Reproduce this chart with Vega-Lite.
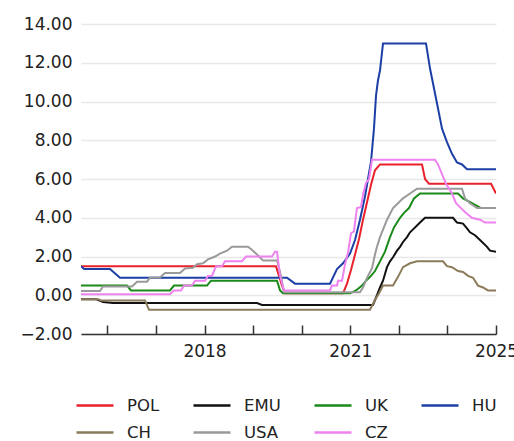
{
  "$schema": "https://vega.github.io/schema/vega-lite/v6.json",
  "width": 415,
  "height": 310,
  "autosize": {"type": "none"},
  "padding": {"left": 81, "top": 24, "right": 18, "bottom": 107},
  "config": {
    "view": {"stroke": null},
    "font": "DejaVu Sans"
  },
  "data": {
    "values": [
      {"s":"POL","t":2016.457,"v":1.5},{"s":"POL","t":2020.471,"v":1.5},{"s":"POL","t":2020.533,"v":1.0},{"s":"POL","t":2020.595,"v":0.5},{"s":"POL","t":2020.657,"v":0.1},{"s":"POL","t":2021.851,"v":0.1},{"s":"POL","t":2021.933,"v":0.6},{"s":"POL","t":2022.015,"v":1.3},{"s":"POL","t":2022.098,"v":2.1},{"s":"POL","t":2022.180,"v":2.9},{"s":"POL","t":2022.262,"v":3.9},{"s":"POL","t":2022.345,"v":4.8},{"s":"POL","t":2022.427,"v":5.7},{"s":"POL","t":2022.509,"v":6.45},{"s":"POL","t":2022.612,"v":6.75},{"s":"POL","t":2023.477,"v":6.75},{"s":"POL","t":2023.539,"v":6.0},{"s":"POL","t":2023.621,"v":5.75},{"s":"POL","t":2024.898,"v":5.75},{"s":"POL","t":2025.0,"v":5.25},
      {"s":"EMU","t":2016.457,"v":-0.2},{"s":"EMU","t":2016.766,"v":-0.2},{"s":"EMU","t":2016.910,"v":-0.35},{"s":"EMU","t":2017.116,"v":-0.4},{"s":"EMU","t":2020.080,"v":-0.4},{"s":"EMU","t":2020.183,"v":-0.5},{"s":"EMU","t":2022.468,"v":-0.5},{"s":"EMU","t":2022.550,"v":0.0},{"s":"EMU","t":2022.612,"v":0.4},{"s":"EMU","t":2022.674,"v":0.75},{"s":"EMU","t":2022.756,"v":1.45},{"s":"EMU","t":2022.818,"v":1.75},{"s":"EMU","t":2022.880,"v":1.96},{"s":"EMU","t":2022.962,"v":2.3},{"s":"EMU","t":2023.024,"v":2.5},{"s":"EMU","t":2023.086,"v":2.75},{"s":"EMU","t":2023.168,"v":3.0},{"s":"EMU","t":2023.230,"v":3.25},{"s":"EMU","t":2023.292,"v":3.4},{"s":"EMU","t":2023.374,"v":3.6},{"s":"EMU","t":2023.436,"v":3.75},{"s":"EMU","t":2023.539,"v":4.0},{"s":"EMU","t":2024.115,"v":4.0},{"s":"EMU","t":2024.197,"v":3.75},{"s":"EMU","t":2024.321,"v":3.7},{"s":"EMU","t":2024.403,"v":3.45},{"s":"EMU","t":2024.465,"v":3.25},{"s":"EMU","t":2024.568,"v":3.1},{"s":"EMU","t":2024.671,"v":2.85},{"s":"EMU","t":2024.815,"v":2.5},{"s":"EMU","t":2024.877,"v":2.3},{"s":"EMU","t":2025.0,"v":2.25},
      {"s":"UK","t":2016.457,"v":0.5},{"s":"UK","t":2017.404,"v":0.5},{"s":"UK","t":2017.486,"v":0.25},{"s":"UK","t":2018.289,"v":0.25},{"s":"UK","t":2018.371,"v":0.5},{"s":"UK","t":2019.051,"v":0.5},{"s":"UK","t":2019.133,"v":0.75},{"s":"UK","t":2020.492,"v":0.75},{"s":"UK","t":2020.554,"v":0.25},{"s":"UK","t":2020.615,"v":0.1},{"s":"UK","t":2021.995,"v":0.1},{"s":"UK","t":2022.118,"v":0.25},{"s":"UK","t":2022.242,"v":0.5},{"s":"UK","t":2022.324,"v":0.75},{"s":"UK","t":2022.427,"v":1.0},{"s":"UK","t":2022.509,"v":1.25},{"s":"UK","t":2022.612,"v":1.75},{"s":"UK","t":2022.715,"v":2.25},{"s":"UK","t":2022.818,"v":3.0},{"s":"UK","t":2022.900,"v":3.5},{"s":"UK","t":2023.024,"v":4.0},{"s":"UK","t":2023.106,"v":4.25},{"s":"UK","t":2023.209,"v":4.5},{"s":"UK","t":2023.312,"v":5.0},{"s":"UK","t":2023.436,"v":5.25},{"s":"UK","t":2024.218,"v":5.25},{"s":"UK","t":2024.321,"v":5.0},{"s":"UK","t":2024.506,"v":4.75},{"s":"UK","t":2024.691,"v":4.5},{"s":"UK","t":2025.0,"v":4.5},
      {"s":"HU","t":2016.457,"v":1.5},{"s":"HU","t":2016.519,"v":1.35},{"s":"HU","t":2017.054,"v":1.35},{"s":"HU","t":2017.260,"v":0.9},{"s":"HU","t":2020.698,"v":0.9},{"s":"HU","t":2020.862,"v":0.6},{"s":"HU","t":2021.583,"v":0.6},{"s":"HU","t":2021.727,"v":1.35},{"s":"HU","t":2021.851,"v":1.65},{"s":"HU","t":2021.995,"v":2.15},{"s":"HU","t":2022.098,"v":2.85},{"s":"HU","t":2022.200,"v":3.9},{"s":"HU","t":2022.303,"v":5.1},{"s":"HU","t":2022.365,"v":6.0},{"s":"HU","t":2022.427,"v":6.9},{"s":"HU","t":2022.488,"v":8.6},{"s":"HU","t":2022.530,"v":10.3},{"s":"HU","t":2022.571,"v":11.1},{"s":"HU","t":2022.612,"v":11.6},{"s":"HU","t":2022.674,"v":13.0},{"s":"HU","t":2023.559,"v":13.0},{"s":"HU","t":2023.642,"v":11.7},{"s":"HU","t":2023.786,"v":9.9},{"s":"HU","t":2023.889,"v":8.6},{"s":"HU","t":2023.991,"v":7.9},{"s":"HU","t":2024.094,"v":7.3},{"s":"HU","t":2024.197,"v":6.85},{"s":"HU","t":2024.300,"v":6.75},{"s":"HU","t":2024.403,"v":6.5},{"s":"HU","t":2025.0,"v":6.5},
      {"s":"CH","t":2016.457,"v":-0.2},{"s":"CH","t":2016.807,"v":-0.2},{"s":"CH","t":2016.869,"v":-0.27},{"s":"CH","t":2017.775,"v":-0.27},{"s":"CH","t":2017.857,"v":-0.75},{"s":"CH","t":2022.406,"v":-0.75},{"s":"CH","t":2022.509,"v":-0.25},{"s":"CH","t":2022.592,"v":0.1},{"s":"CH","t":2022.674,"v":0.5},{"s":"CH","t":2022.880,"v":0.5},{"s":"CH","t":2022.983,"v":0.95},{"s":"CH","t":2023.086,"v":1.45},{"s":"CH","t":2023.230,"v":1.65},{"s":"CH","t":2023.374,"v":1.75},{"s":"CH","t":2023.909,"v":1.75},{"s":"CH","t":2023.991,"v":1.5},{"s":"CH","t":2024.094,"v":1.45},{"s":"CH","t":2024.218,"v":1.25},{"s":"CH","t":2024.321,"v":1.2},{"s":"CH","t":2024.424,"v":1.0},{"s":"CH","t":2024.527,"v":0.9},{"s":"CH","t":2024.630,"v":0.5},{"s":"CH","t":2024.733,"v":0.4},{"s":"CH","t":2024.836,"v":0.25},{"s":"CH","t":2025.0,"v":0.25},
      {"s":"USA","t":2016.457,"v":0.22},{"s":"USA","t":2016.848,"v":0.22},{"s":"USA","t":2016.910,"v":0.45},{"s":"USA","t":2017.507,"v":0.45},{"s":"USA","t":2017.610,"v":0.7},{"s":"USA","t":2017.816,"v":0.7},{"s":"USA","t":2017.877,"v":0.92},{"s":"USA","t":2018.083,"v":0.92},{"s":"USA","t":2018.186,"v":1.15},{"s":"USA","t":2018.495,"v":1.15},{"s":"USA","t":2018.598,"v":1.38},{"s":"USA","t":2018.763,"v":1.42},{"s":"USA","t":2018.845,"v":1.6},{"s":"USA","t":2018.968,"v":1.65},{"s":"USA","t":2019.071,"v":1.85},{"s":"USA","t":2019.216,"v":2.0},{"s":"USA","t":2019.318,"v":2.15},{"s":"USA","t":2019.463,"v":2.3},{"s":"USA","t":2019.565,"v":2.5},{"s":"USA","t":2019.895,"v":2.5},{"s":"USA","t":2019.998,"v":2.3},{"s":"USA","t":2020.101,"v":2.05},{"s":"USA","t":2020.204,"v":1.8},{"s":"USA","t":2020.492,"v":1.8},{"s":"USA","t":2020.574,"v":1.0},{"s":"USA","t":2020.636,"v":0.15},{"s":"USA","t":2022.200,"v":0.15},{"s":"USA","t":2022.262,"v":0.4},{"s":"USA","t":2022.345,"v":0.9},{"s":"USA","t":2022.448,"v":1.4},{"s":"USA","t":2022.509,"v":2.1},{"s":"USA","t":2022.550,"v":2.5},{"s":"USA","t":2022.612,"v":3.0},{"s":"USA","t":2022.756,"v":3.9},{"s":"USA","t":2022.880,"v":4.5},{"s":"USA","t":2022.983,"v":4.75},{"s":"USA","t":2023.086,"v":5.0},{"s":"USA","t":2023.230,"v":5.25},{"s":"USA","t":2023.374,"v":5.5},{"s":"USA","t":2024.300,"v":5.5},{"s":"USA","t":2024.362,"v":5.0},{"s":"USA","t":2024.465,"v":4.75},{"s":"USA","t":2024.609,"v":4.5},{"s":"USA","t":2025.0,"v":4.5},
      {"s":"CZ","t":2016.457,"v":0.05},{"s":"CZ","t":2018.289,"v":0.05},{"s":"CZ","t":2018.371,"v":0.25},{"s":"CZ","t":2018.516,"v":0.25},{"s":"CZ","t":2018.577,"v":0.5},{"s":"CZ","t":2018.742,"v":0.5},{"s":"CZ","t":2018.804,"v":0.75},{"s":"CZ","t":2019.010,"v":0.75},{"s":"CZ","t":2019.071,"v":1.0},{"s":"CZ","t":2019.154,"v":1.0},{"s":"CZ","t":2019.236,"v":1.5},{"s":"CZ","t":2019.360,"v":1.5},{"s":"CZ","t":2019.421,"v":1.75},{"s":"CZ","t":2019.771,"v":1.75},{"s":"CZ","t":2019.854,"v":2.0},{"s":"CZ","t":2020.389,"v":2.0},{"s":"CZ","t":2020.451,"v":2.25},{"s":"CZ","t":2020.492,"v":2.25},{"s":"CZ","t":2020.554,"v":1.0},{"s":"CZ","t":2020.636,"v":0.25},{"s":"CZ","t":2021.583,"v":0.25},{"s":"CZ","t":2021.624,"v":0.5},{"s":"CZ","t":2021.727,"v":0.5},{"s":"CZ","t":2021.748,"v":0.75},{"s":"CZ","t":2021.830,"v":0.75},{"s":"CZ","t":2021.892,"v":1.6},{"s":"CZ","t":2021.953,"v":2.2},{"s":"CZ","t":2022.015,"v":3.2},{"s":"CZ","t":2022.077,"v":3.3},{"s":"CZ","t":2022.098,"v":3.75},{"s":"CZ","t":2022.139,"v":4.5},{"s":"CZ","t":2022.221,"v":4.55},{"s":"CZ","t":2022.262,"v":5.2},{"s":"CZ","t":2022.324,"v":5.8},{"s":"CZ","t":2022.386,"v":6.0},{"s":"CZ","t":2022.448,"v":7.0},{"s":"CZ","t":2023.744,"v":7.0},{"s":"CZ","t":2023.806,"v":6.75},{"s":"CZ","t":2023.889,"v":6.25},{"s":"CZ","t":2023.971,"v":5.75},{"s":"CZ","t":2024.094,"v":5.25},{"s":"CZ","t":2024.177,"v":4.75},{"s":"CZ","t":2024.259,"v":4.55},{"s":"CZ","t":2024.383,"v":4.25},{"s":"CZ","t":2024.506,"v":4.0},{"s":"CZ","t":2024.671,"v":3.9},{"s":"CZ","t":2024.774,"v":3.75},{"s":"CZ","t":2025.0,"v":3.75}
    ]
  },
  "mark": {"type": "line", "strokeWidth": 2, "clip": true},
  "encoding": {
    "x": {
      "field": "t",
      "type": "quantitative",
      "scale": {"domain": [2016.457, 2025], "nice": false, "zero": false},
      "axis": {
        "title": null,
        "values": [2017, 2018, 2019, 2020, 2021, 2022, 2023, 2024, 2025],
        "labelExpr": "datum.value == 2019 ? '2018' : datum.value == 2022 ? '2021' : datum.value == 2025 ? '2025' : ''",
        "labelFlush": false,
        "labelOverlap": false,
        "grid": false,
        "tickSize": -9,
        "tickWidth": 1.5,
        "tickColor": "#333333",
        "domainColor": "#333333",
        "domainWidth": 1.5,
        "labelFontSize": 17,
        "labelColor": "#222222",
        "labelPadding": 18
      }
    },
    "y": {
      "field": "v",
      "type": "quantitative",
      "scale": {"domain": [-2, 14], "nice": false, "zero": false},
      "axis": {
        "title": null,
        "values": [-2, 0, 2, 4, 6, 8, 10, 12, 14],
        "format": ".2f",
        "grid": true,
        "gridColor": "#e8e8e8",
        "gridWidth": 1.5,
        "domain": false,
        "ticks": false,
        "labelPadding": 9,
        "labelFontSize": 17,
        "labelColor": "#222222"
      }
    },
    "color": {
      "field": "s",
      "type": "nominal",
      "scale": {
        "domain": ["POL", "EMU", "UK", "HU", "CH", "USA", "CZ"],
        "range": ["#e8212b", "#111111", "#1a8a1a", "#1c3fa6", "#8c7b5b", "#9a9a9a", "#ee82ee"]
      },
      "legend": {
        "title": null,
        "orient": "none",
        "legendX": -6,
        "legendY": 373,
        "direction": "horizontal",
        "columns": 4,
        "symbolType": "stroke",
        "symbolSize": 1369,
        "symbolStrokeWidth": 2.5,
        "clipHeight": 17,
        "labelOffset": 12,
        "columnPadding": 32,
        "rowPadding": 10,
        "labelFontSize": 16.5,
        "labelColor": "#222222"
      }
    }
  }
}
